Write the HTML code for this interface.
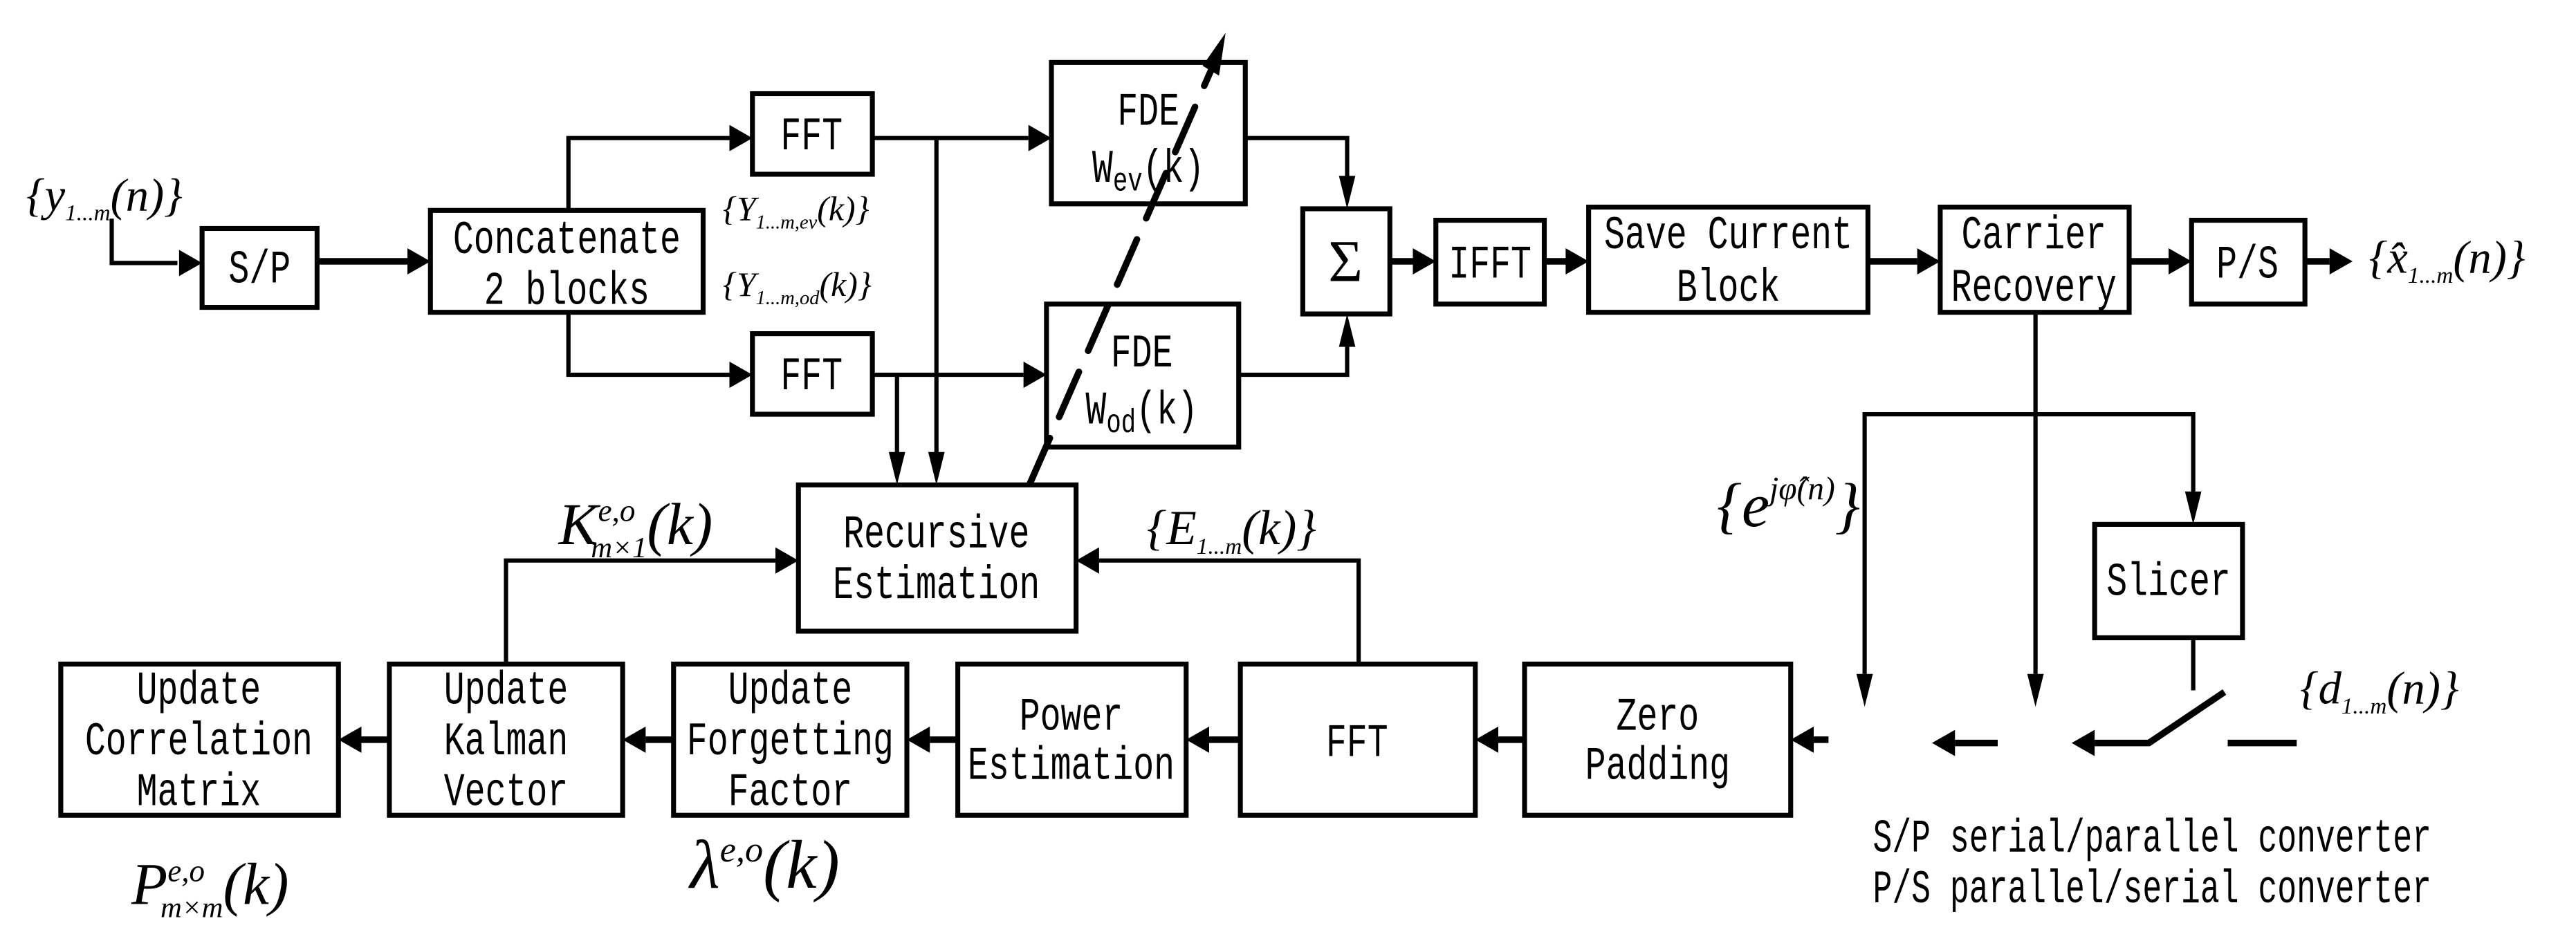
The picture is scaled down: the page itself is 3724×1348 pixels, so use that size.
<!DOCTYPE html>
<html><head><meta charset="utf-8"><style>
html,body{margin:0;padding:0;background:#fff}
svg{display:block}
.b{fill:#fff;stroke:#000;stroke-width:3}
.t{font-family:"Liberation Mono",monospace;font-size:21px;text-anchor:middle;fill:#000;transform-box:fill-box;transform-origin:center;transform:scaleY(1.35)}
.m{font-family:"Liberation Serif",serif;font-style:italic;fill:#000}
.l{stroke:#000;stroke-width:2.6;fill:none}
.L{stroke:#000;stroke-width:4;fill:none}
</style></head><body>
<svg width="3724" height="1348" viewBox="0 0 1568 567" preserveAspectRatio="none" xmlns="http://www.w3.org/2000/svg">
<defs>
<g id="ar"><polygon points="0,0 -14,-8 -14,8" fill="#000"/></g>
<g id="ad"><polygon points="0,0 -5,-20 5,-20" fill="#000"/></g>
</defs>
<g>
<rect class="b" x="123" y="139" width="70" height="48"/>
<rect class="b" x="262" y="128" width="166" height="62"/>
<rect class="b" x="458" y="57" width="73" height="49"/>
<rect class="b" x="458" y="203" width="73" height="49"/>
<rect class="b" x="640" y="38" width="118" height="86"/>
<rect class="b" x="637" y="185" width="117" height="87"/>
<rect class="b" x="793" y="127" width="53" height="64"/>
<rect class="b" x="874" y="134" width="66" height="51"/>
<rect class="b" x="967" y="126" width="170" height="64"/>
<rect class="b" x="1181" y="126" width="115" height="64"/>
<rect class="b" x="1334" y="134" width="69" height="51"/>
<rect class="b" x="486" y="295" width="169" height="89"/>
<rect class="b" x="1275" y="319" width="90" height="69"/>
<rect class="b" x="37" y="404" width="169" height="92"/>
<rect class="b" x="237" y="404" width="142" height="92"/>
<rect class="b" x="410" y="404" width="142" height="92"/>
<rect class="b" x="583" y="404" width="139" height="92"/>
<rect class="b" x="755" y="404" width="143" height="92"/>
<rect class="b" x="928" y="404" width="162" height="92"/>
</g>
<text class="t" x="158" y="170">S/P</text>
<text class="t" x="345" y="152">Concatenate</text>
<text class="t" x="345" y="183">2 blocks</text>
<text class="t" x="494" y="89">FFT</text>
<text class="t" x="494" y="235">FFT</text>
<text class="t" x="699" y="74">FDE</text>
<text class="t" x="699" y="109">W<tspan font-size="15" dy="4">ev</tspan><tspan dy="-4">(k)</tspan></text>
<text class="t" x="695" y="221">FDE</text>
<text class="t" x="695" y="256">W<tspan font-size="15" dy="4">od</tspan><tspan dy="-4">(k)</tspan></text>
<text x="819" y="171" font-family="Liberation Serif,serif" font-size="36" text-anchor="middle">Σ</text>
<text class="t" x="907" y="167">IFFT</text>
<text class="t" x="1052" y="149">Save Current</text>
<text class="t" x="1052" y="181">Block</text>
<text class="t" x="1238" y="149">Carrier</text>
<text class="t" x="1238" y="181">Recovery</text>
<text class="t" x="1368" y="167">P/S</text>
<text class="t" x="570" y="331">Recursive</text>
<text class="t" x="570" y="362">Estimation</text>
<text class="t" x="1320" y="360">Slicer</text>
<text class="t" x="121" y="426">Update</text>
<text class="t" x="121" y="457">Correlation</text>
<text class="t" x="121" y="488">Matrix</text>
<text class="t" x="308" y="426">Update</text>
<text class="t" x="308" y="457">Kalman</text>
<text class="t" x="308" y="488">Vector</text>
<text class="t" x="481" y="426">Update</text>
<text class="t" x="481" y="457">Forgetting</text>
<text class="t" x="481" y="488">Factor</text>
<text class="t" x="652" y="442">Power</text>
<text class="t" x="652" y="472">Estimation</text>
<text class="t" x="826" y="458">FFT</text>
<text class="t" x="1009" y="442">Zero</text>
<text class="t" x="1009" y="472">Padding</text>
<text class="t" x="1310" y="516" textLength="340" lengthAdjust="spacingAndGlyphs">S/P serial/parallel converter</text>
<text class="t" x="1310" y="547" textLength="340" lengthAdjust="spacingAndGlyphs">P/S parallel/serial converter</text>
<polyline class="l" points="68,133 68,160 108,160"/><use href="#ar" x="123" y="160"/>
<line class="L" x1="193" y1="159" x2="248" y2="159"/><use href="#ar" x="262" y="159"/>
<polyline class="l" points="346,128 346,84 444,84"/><use href="#ar" x="458" y="84"/>
<polyline class="l" points="346,190 346,228 444,228"/><use href="#ar" x="458" y="228"/>
<line class="l" x1="531" y1="84" x2="626" y2="84"/><use href="#ar" x="640" y="84"/>
<line class="l" x1="531" y1="228" x2="623" y2="228"/><use href="#ar" x="637" y="228"/>
<line class="l" x1="570" y1="84" x2="570" y2="276"/><use href="#ad" x="570" y="295"/>
<line class="l" x1="546" y1="228" x2="546" y2="276"/><use href="#ad" x="546" y="295"/>
<polyline class="l" points="758,84 820,84 820,108"/><use href="#ad" x="820" y="127"/>
<polyline class="l" points="754,228 820,228 820,211"/><use href="#ad" x="820" y="191" transform="rotate(180 820 191)"/>
<line class="L" x1="846" y1="159" x2="861" y2="159"/><use href="#ar" x="874" y="159"/>
<line class="L" x1="940" y1="159" x2="954" y2="159"/><use href="#ar" x="967" y="159"/>
<line class="L" x1="1137" y1="159" x2="1167" y2="159"/><use href="#ar" x="1181" y="159"/>
<line class="L" x1="1296" y1="159" x2="1320" y2="159"/><use href="#ar" x="1334" y="159"/>
<line class="L" x1="1403" y1="159" x2="1418" y2="159"/><use href="#ar" x="1432" y="159"/>
<line x1="627" y1="294" x2="741" y2="34" stroke="#000" stroke-width="4" stroke-dasharray="30,14" stroke-linecap="round"/>
<polygon points="746,20 742,46 732,40" fill="#000"/>
<line class="l" x1="1239" y1="190" x2="1239" y2="410"/><use href="#ad" x="1239" y="430"/>
<polyline class="l" points="1135,410 1135,252 1335,252 1335,300"/><use href="#ad" x="1135" y="430"/><use href="#ad" x="1335" y="319"/>
<line class="l" x1="1335" y1="388" x2="1335" y2="420"/>
<polyline class="L" points="1354,421 1308,452 1275,452"/><use href="#ar" x="1261" y="452" transform="rotate(180 1261 452)"/>
<line class="L" x1="1356" y1="452" x2="1398" y2="452"/>
<line class="L" x1="1216" y1="452" x2="1190" y2="452"/><use href="#ar" x="1176" y="452" transform="rotate(180 1176 452)"/>
<line class="L" x1="1113" y1="450" x2="1104" y2="450"/><use href="#ar" x="1090" y="450" transform="rotate(180 1090 450)"/>
<line class="L" x1="928" y1="450" x2="912" y2="450"/><use href="#ar" x="898" y="450" transform="rotate(180 898 450)"/>
<line class="L" x1="755" y1="450" x2="736" y2="450"/><use href="#ar" x="722" y="450" transform="rotate(180 722 450)"/>
<line class="L" x1="583" y1="450" x2="566" y2="450"/><use href="#ar" x="552" y="450" transform="rotate(180 552 450)"/>
<line class="L" x1="410" y1="450" x2="393" y2="450"/><use href="#ar" x="379" y="450" transform="rotate(180 379 450)"/>
<line class="L" x1="237" y1="450" x2="220" y2="450"/><use href="#ar" x="206" y="450" transform="rotate(180 206 450)"/>
<polyline class="l" points="308,404 308,341 472,341"/><use href="#ar" x="486" y="341"/>
<polyline class="l" points="827,404 827,341 669,341"/><use href="#ar" x="655" y="341" transform="rotate(180 655 341)"/>
<text class="m" x="16" y="128" font-size="28">{<tspan>y</tspan><tspan font-size="14" dy="6">1...m</tspan><tspan dy="-6">(n)}</tspan></text>
<text class="m" x="440" y="134" font-size="21">{Y<tspan font-size="12" dy="5">1...m,ev</tspan><tspan dy="-5">(k)}</tspan></text>
<text class="m" x="440" y="180" font-size="21">{Y<tspan font-size="12" dy="5">1...m,od</tspan><tspan dy="-5">(k)}</tspan></text>
<text class="m" x="1442" y="166" font-size="28">{x̂<tspan font-size="14" dy="6">1...m</tspan><tspan dy="-6">(n)}</tspan></text>
<text class="m" x="340" y="331" font-size="36">K<tspan font-size="19" dy="-14">e,o</tspan><tspan font-size="18" dx="-27" dy="22">m×1</tspan><tspan dy="-8">(k)</tspan></text>
<text class="m" x="698" y="331" font-size="30">{E<tspan font-size="14" dy="6">1...m</tspan><tspan dy="-6">(k)}</tspan></text>
<text class="m" x="80" y="550" font-size="36">P<tspan font-size="19" dy="-14">e,o</tspan><tspan font-size="18" dx="-27" dy="22">m×m</tspan><tspan dy="-8">(k)</tspan></text>
<text class="m" x="420" y="540" font-size="42">λ<tspan font-size="22" dy="-16">e,o</tspan><tspan dy="16">(k)</tspan></text>
<text class="m" x="1045" y="320" font-size="38">{e<tspan font-size="20" dy="-16">jφ̂(n)</tspan><tspan dy="16">}</tspan></text>
<text class="m" x="1400" y="428" font-size="28">{d<tspan font-size="14" dy="6">1...m</tspan><tspan dy="-6">(n)}</tspan></text>
</svg>
</body></html>
